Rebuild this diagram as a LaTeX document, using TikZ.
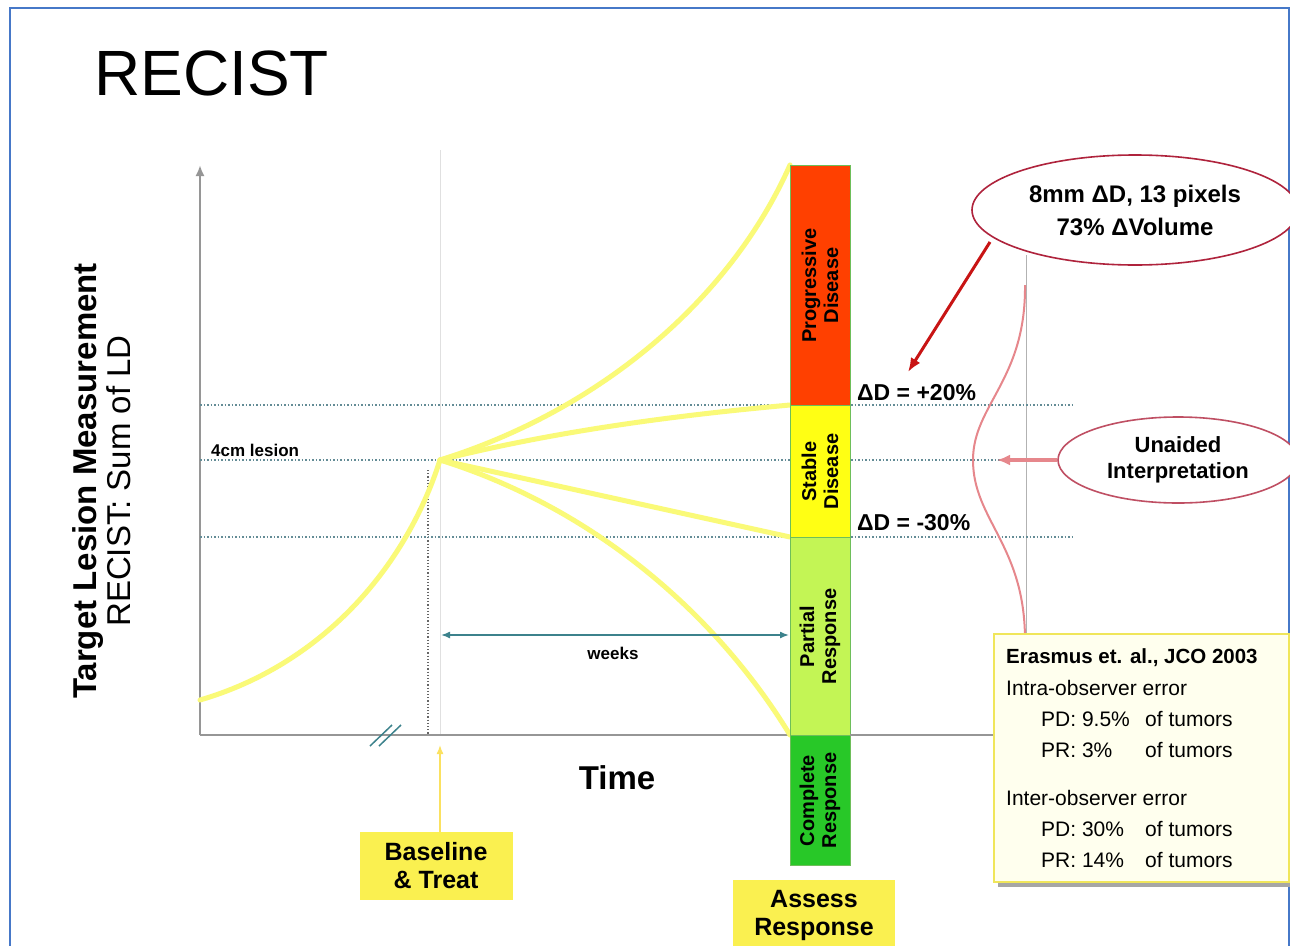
\documentclass[tikz,border=0pt]{standalone}
\usepackage{fontspec}
\setmainfont{Liberation Sans}
\newfontfamily\nar[FakeStretch=0.9]{Liberation Sans}
\usetikzlibrary{arrows.meta,shapes.geometric}
\newcommand{\myfs}[1]{\fontsize{#1}{#1}\selectfont}
\definecolor{frameblue}{RGB}{70,120,200}
\definecolor{axisgray}{RGB}{150,150,150}
\definecolor{dotc}{RGB}{100,140,150}
\definecolor{curvey}{RGB}{250,250,120}
\definecolor{pdred}{RGB}{255,64,0}
\definecolor{sdyel}{RGB}{255,255,20}
\definecolor{prgreen}{RGB}{195,245,85}
\definecolor{crgreen}{RGB}{40,200,40}
\definecolor{barline}{RGB}{110,190,90}
\definecolor{teal}{RGB}{60,130,140}
\definecolor{darkred}{RGB}{200,20,20}
\definecolor{ellred}{RGB}{175,35,60}
\definecolor{pinkc}{RGB}{230,135,140}
\definecolor{boxyel}{RGB}{250,240,80}
\definecolor{notefill}{RGB}{255,255,238}
\definecolor{noteline}{RGB}{240,230,90}
\begin{document}
\begin{tikzpicture}[x=1pt,y=-1pt,
  axis/.style={draw=axisgray,line width=2.5pt},
  dotline/.style={draw=dotc,line width=1.5pt,dotted},
  growth/.style={draw=curvey,line width=5pt,line cap=round},
  barseg/.style={draw=barline,line width=1pt,minimum width=60pt,inner sep=0pt,anchor=north},
  bartext/.style={rotate=90,align=center,font=\bfseries\myfs{20}},
  yelbox/.style={fill=boxyel,inner sep=0pt,align=center,font=\bfseries\myfs{25}},
  ell/.style={ellipse,draw=ellred,line width=1.6pt,fill=white,inner sep=0pt,align=center},
  lbl/.style={inner sep=0pt,font=\bfseries\myfs{23}}]
\useasboundingbox (0,0) rectangle (1290,945);
\fill[white] (0,0) rectangle (1290,945);
\draw[frameblue,line width=1.5pt] (10,960) -- (10,8) -- (1289,8) -- (1289,960);

% title
\node[anchor=base west,inner sep=0pt,font=\myfs{64}] (title) at (94,95) {RECIST};

% y axis label
\node[rotate=90,align=center,inner sep=0pt,font=\myfs{33}] (ylab) at (102,481)
  {\textbf{Target Lesion Measurement}\\[1pt]RECIST: Sum of LD};

% faint vertical guides
\draw[black!12,line width=1pt] (440,150) -- (440,735);
\draw[black!30,line width=1pt] (1026,255) -- (1026,640);
\draw[black!60,line width=1.2pt,dotted] (428,470) -- (428,735);

% axes
\coordinate (origin) at (200,735);
\coordinate (ytop) at (200,165);
\coordinate (xend) at (1000,735);
\draw[axis,-{Latex[length=11pt,width=9pt]}] (origin) -- (ytop);
\draw[axis] (origin) -- (xend);

% break marks
\draw[teal,line width=1.5pt] (370,746) -- (392,725);
\draw[teal,line width=1.5pt] (379,746) -- (401,725);

% dotted thresholds
\draw[dotline] (200,405) -- (1075,405);
\draw[dotline] (200,460) -- (1075,460);
\draw[dotline] (200,537) -- (1075,537);

\node[anchor=base west,inner sep=0pt,font=\bfseries\myfs{17}] (lesion) at (211,456) {4cm lesion};

% growth curves
\coordinate (start) at (200,700);
\coordinate (base) at (440,460);
\draw[growth] (start) .. controls (320,665) and (405,570) .. (base);
\draw[growth] (base) .. controls (600,410) and (730,300) .. (790,165);
\draw[growth] (base) .. controls (560,430) and (680,415) .. (790,405);
\draw[growth] (base) -- (790,537);
\draw[growth] (base) .. controls (600,510) and (720,620) .. (790,735);

% response bar
\node[barseg,fill=pdred,minimum height=240pt] (pd) at (820,165) {};
\node[barseg,fill=sdyel,minimum height=132pt] (sd) at (820,405) {};
\node[barseg,fill=prgreen,minimum height=198pt] (pr) at (820,537) {};
\node[barseg,fill=crgreen,minimum height=130pt] (cr) at (820,735) {};
\node[bartext] (pdt) at (pd.center) {Progressive\\[2pt]Disease};
\node[bartext] (sdt) at (sd.center) {Stable\\[2pt]Disease};
\node[bartext] (prt) at (pr.center) {Partial\\[2pt]Response};
\node[bartext] (crt) at (cr.center) {Complete\\[2pt]Response};

% redraw x axis right of the bar
\draw[axisgray,line width=2.5pt] (850,735) -- (xend);

% threshold labels
\node[lbl,anchor=base west] (plus) at (857,400) {ΔD = +20\%};
\node[lbl,anchor=base west] (minus) at (857,530) {ΔD = -30\%};

% weeks arrow
\coordinate (wl) at (441,635);
\coordinate (wr) at (789,635);
\draw[teal,line width=1.5pt,{Latex[length=9pt,width=7pt]}-{Latex[length=9pt,width=7pt]}] (wl) -- (wr);
\node[inner sep=0pt,font=\bfseries\myfs{17}] (weeks) at (613,653) {weeks};

% Time label
\node[inner sep=0pt,font=\bfseries\myfs{33}] (time) at (617,778) {Time};

% baseline box & arrow
\node[yelbox,minimum width=153pt,minimum height=68pt] (bt) at (436,866) {Baseline\\[3pt]\& Treat};
\coordinate (btarrow) at (440,745);
\draw[curvey!80!orange,line width=1.5pt,-{Latex[length=9pt,width=7pt]}] (bt.north -| btarrow) -- (btarrow);

% assess box
\node[yelbox,minimum width=162pt,minimum height=70pt,anchor=north] (ar) at (814,880) {Assess\\[3pt]Response};

% bell curve
\draw[pinkc,line width=2pt] (1025,285) .. controls (1026,380) and (973,405) .. (973,460)
  .. controls (973,520) and (1025,545) .. (1025,640);

% ellipses
\node[ell,minimum width=326pt,minimum height=110pt,font=\bfseries\myfs{24}] (e1) at (1135,210)
  {8mm ΔD, 13 pixels\\[9pt]73\% ΔVolume};
\node[ell,minimum width=240pt,minimum height=86pt,font=\bfseries\myfs{22},draw=ellred!80] (e2) at (1178,460)
  {Unaided\\[4pt]Interpretation};

\coordinate (e1s) at (990,242);
\coordinate (plustip) at (908,372);
\draw[darkred,line width=3pt,-{Latex[length=14pt,width=11pt]}] (e1s) -- (plustip);
\coordinate (bellpt) at (997,460);
\draw[pinkc,line width=4pt,-{Latex[length=13pt,width=11pt]}] (e2.west) -- (bellpt);

% note box
\fill[black!35] (998,638) rectangle (1293,887);
\node[draw=noteline,fill=notefill,line width=2pt,minimum width=295pt,minimum height=248pt,anchor=north west,inner sep=0pt] (note) at (993,633) {};
\begin{scope}[font=\myfs{21}]
\node[anchor=base west,inner sep=0pt,font=\bfseries\myfs{20.5}] (n1) at (1006,663) {Erasmus et. al., JCO 2003};
\node[anchor=base west,inner sep=0pt] (n2) at (1006,695) {Intra-observer error};
\node[anchor=base west,inner sep=0pt] (n3) at (1041,726) {PD: 9.5\%};
\node[anchor=base west,inner sep=0pt] (n3b) at (1145,726) {of tumors};
\node[anchor=base west,inner sep=0pt] (n4) at (1041,757) {PR: 3\%};
\node[anchor=base west,inner sep=0pt] (n4b) at (1145,757) {of tumors};
\node[anchor=base west,inner sep=0pt] (n5) at (1006,805) {Inter-observer error};
\node[anchor=base west,inner sep=0pt] (n6) at (1041,836) {PD: 30\%};
\node[anchor=base west,inner sep=0pt] (n6b) at (1145,836) {of tumors};
\node[anchor=base west,inner sep=0pt] (n7) at (1041,867) {PR: 14\%};
\node[anchor=base west,inner sep=0pt] (n7b) at (1145,867) {of tumors};
\end{scope}
\end{tikzpicture}
\end{document}
